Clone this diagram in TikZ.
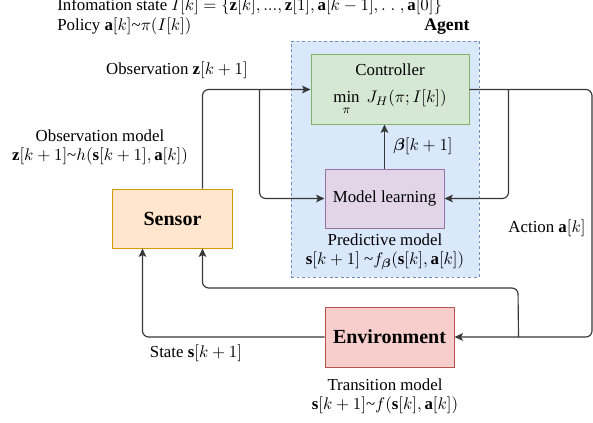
\documentclass[tikz,border=0pt]{standalone}
\usepackage{amsmath,amssymb,bm}
\usepackage{fontspec}
\setmainfont{Liberation Serif}
\usetikzlibrary{arrows.meta,calc,positioning}

\definecolor{agentfill}{HTML}{DAE8FC}
\definecolor{agentline}{HTML}{6C8EBF}
\definecolor{ctrlfill}{HTML}{D5E8D4}
\definecolor{ctrlline}{HTML}{82B366}
\definecolor{learnfill}{HTML}{E1D5E7}
\definecolor{learnline}{HTML}{9673A6}
\definecolor{sensfill}{HTML}{FFE6CC}
\definecolor{sensline}{HTML}{D79B00}
\definecolor{envfill}{HTML}{F8CECC}
\definecolor{envline}{HTML}{B85450}

\begin{document}
\begin{tikzpicture}[x=0.65pt,y=-0.65pt,font=\fontsize{10.95}{12.6}\selectfont]

\tikzset{block/.style = {draw, line width=0.6pt, inner sep=2pt, align=center},
         wire/.style  = {draw=black!78, line width=0.75pt, rounded corners=4pt},
         arr/.style   = {wire, -{Stealth[length=5.5pt,width=5pt,inset=1.2pt]}},
         lbl/.style   = {inner sep=0pt, align=center},
         bigbold/.style = {font=\bfseries\fontsize{13}{15}\selectfont}}

\useasboundingbox (0,0) rectangle (593,423);

\node[draw=agentline, fill=agentfill, dash pattern=on 1.8pt off 1.8pt, line width=0.6pt,
      minimum width=122.2pt, minimum height=153.4pt] (agent) at (385,159) {};

\node[block, draw=ctrlline, fill=ctrlfill, minimum width=102.7pt, minimum height=44.9pt]
     (ctrl) at (390,89.5) {Controller\\[5pt] $\min\limits_{\pi}\ J_H(\pi; I[k])$};
\node[block, draw=learnline, fill=learnfill, minimum width=77.4pt, minimum height=38.4pt]
     (learn) at (384.5,198.5) {Model learning};
\node[block, draw=sensline, fill=sensfill, minimum width=77.4pt, minimum height=38.4pt,
      bigbold] (sensor) at (172.5,218.5) {Sensor};
\node[block, draw=envline, fill=envfill, minimum width=83.9pt, minimum height=39pt,
      bigbold] (env) at (389.5,337) {Environment};

\coordinate (sTop) at ($(sensor.north west)!0.75!(sensor.north east)$);
\coordinate (sBotL) at ($(sensor.south west)!0.25!(sensor.south east)$);
\coordinate (sBotR) at ($(sensor.south west)!0.75!(sensor.south east)$);
\coordinate (jL) at ($(ctrl.west)+(-51,0)$);
\coordinate (jR) at ($(ctrl.east)+(39,0)$);
\coordinate (aR) at (592,200);
\coordinate (jE) at ($(env.east)+(64,0)$);
\coordinate (ret) at (518,288);

\draw[arr] (sTop) |- (ctrl.west);
\draw[arr] (jL) |- (learn.west);
\draw[arr] (ctrl.east) -| (aR) |- (env.east);
\draw[arr] (jR) |- (learn.east);
\draw[arr] (jE) -- (ret) -| (sBotR);
\draw[arr] (env.west) -| (sBotL);
\draw[arr] (learn.north) -- (learn.north |- ctrl.south)
     node[midway, right=2pt] {$\bm{\beta}[k+1]$};

\node[lbl, anchor=west] (info) at (57,6)
     {Infomation state $I[k] = \{\mathbf{z}[k], ..., \mathbf{z}[1], \mathbf{a}[k-1], .\;.\;, \mathbf{a}[0]\}$};
\node[lbl, anchor=west] (policy) at (57,26)
     {Policy $\mathbf{a}[k]$\textasciitilde$\pi(I[k])$};
\node[lbl, anchor=west, font=\bfseries\fontsize{11.5}{13}\selectfont] (agentlbl) at (424,27) {Agent};
\node[lbl] (obs) at (177,70) {Observation $\mathbf{z}[k+1]$};
\node[lbl] (obsmod) at (100,147)
     {Observation model\\ $\mathbf{z}[k+1]$\textasciitilde$h(\mathbf{s}[k+1], \mathbf{a}[k])$};
\node[lbl] (predmod) at (385,252)
     {Predictive model\\ $\mathbf{s}[k+1]$ \textasciitilde$f_{\bm{\beta}}(\mathbf{s}[k], \mathbf{a}[k])$};
\node[lbl] (state) at (196,353) {State $\mathbf{s}[k+1]$};
\node[lbl] (action) at (547,228) {Action $\mathbf{a}[k]$};
\node[lbl] (transmod) at (385,396)
     {Transition model\\ $\mathbf{s}[k+1]$\textasciitilde$f(\mathbf{s}[k], \mathbf{a}[k])$};

\end{tikzpicture}
\end{document}
